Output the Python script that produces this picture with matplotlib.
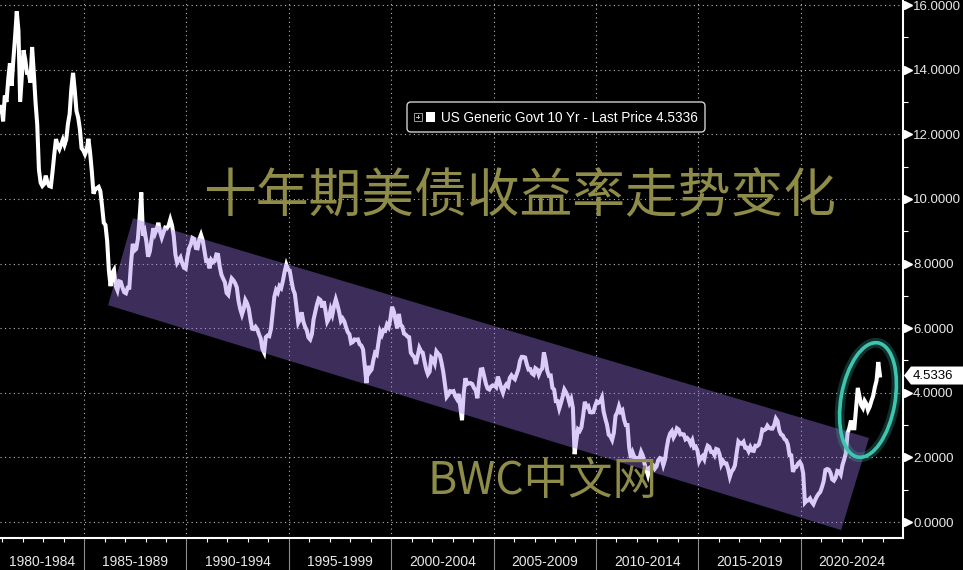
import numpy as np
import matplotlib
matplotlib.use("Agg")
import matplotlib.pyplot as plt
import matplotlib.transforms as mtransforms
from matplotlib.patches import Polygon, Ellipse, FancyBboxPatch, Rectangle

# ---------------- data (monthly 10Y yield) ----------------
start_year, start_month = 1980, 11
y1980_84 = [12.7, 12.9,
            12.4, 13.2, 13.0, 13.7, 14.2, 13.5, 14.3, 15.0, 15.8, 15.2, 13.0, 13.8,
            14.6, 14.3, 13.9, 13.9, 13.6, 14.7, 13.9, 13.0, 12.3, 10.9, 10.5, 10.4,
            10.46, 10.72, 10.51, 10.40, 10.38, 10.85, 11.38, 11.85, 11.65, 11.54, 11.69, 11.83,
            11.67, 11.84, 12.32, 12.63, 13.41, 13.9, 13.36, 12.72, 12.52, 12.16, 11.57, 11.50]
y1985_89 = [11.38, 11.51, 11.86, 11.43, 10.85, 10.16, 10.31, 10.33, 10.37, 10.24, 9.78, 9.26,
            9.19, 8.70, 7.78, 7.30, 7.71, 7.80, 7.30, 7.17, 7.45, 7.43, 7.25, 7.11,
            7.08, 7.25, 7.25, 8.02, 8.61, 8.40, 8.45, 8.76, 9.42, 10.2, 8.86, 8.99,
            8.67, 8.21, 8.37, 8.72, 9.09, 8.92, 9.06, 9.26, 8.98, 8.80, 8.96, 9.11,
            9.09, 9.17, 9.36, 9.18, 8.86, 8.28, 8.02, 8.11, 8.19, 8.01, 7.87, 7.84]
y1990_94 = [8.21, 8.47, 8.59, 8.79, 8.76, 8.48, 8.47, 8.75, 8.89, 8.72, 8.39, 8.08,
            8.09, 7.85, 8.11, 8.04, 8.07, 8.28, 8.27, 7.90, 7.65, 7.53, 7.42, 7.09,
            7.03, 7.34, 7.54, 7.48, 7.39, 7.26, 6.84, 6.59, 6.42, 6.59, 6.87, 6.77,
            6.60, 6.26, 5.98, 5.97, 6.04, 5.96, 5.81, 5.68, 5.36, 5.25, 5.72, 5.77,
            5.75, 5.97, 6.48, 6.97, 7.18, 7.10, 7.30, 7.24, 7.46, 7.74, 7.96, 7.81]
y1995_99 = [7.78, 7.47, 7.20, 7.06, 6.63, 6.17, 6.28, 6.49, 6.20, 6.04, 5.93, 5.71,
            5.65, 5.81, 6.27, 6.51, 6.74, 6.91, 6.87, 6.64, 6.83, 6.53, 6.20, 6.30,
            6.58, 6.42, 6.69, 6.89, 6.71, 6.49, 6.22, 6.30, 6.21, 6.03, 5.88, 5.81,
            5.54, 5.57, 5.65, 5.64, 5.65, 5.50, 5.46, 5.34, 4.81, 4.3, 4.83, 4.65,
            4.72, 5.00, 5.23, 5.18, 5.54, 5.90, 5.79, 5.94, 5.92, 6.11, 6.03, 6.28]
y2000_04 = [6.66, 6.52, 6.26, 5.99, 6.44, 6.10, 6.05, 5.83, 5.80, 5.74, 5.72, 5.24,
            5.16, 5.10, 4.89, 5.14, 5.39, 5.28, 5.24, 4.97, 4.73, 4.57, 4.65, 5.09,
            5.04, 4.91, 5.28, 5.21, 5.16, 4.93, 4.65, 4.26, 3.87, 3.94, 4.05, 4.03,
            4.05, 3.90, 3.81, 3.96, 3.57, 3.15, 3.98, 4.45, 4.27, 4.29, 4.30, 4.27,
            4.15, 4.08, 3.83, 4.35, 4.72, 4.73, 4.50, 4.28, 4.13, 4.10, 4.19, 4.23]
y2005_09 = [4.22, 4.17, 4.50, 4.34, 4.14, 4.00, 4.18, 4.26, 4.20, 4.46, 4.54, 4.47,
            4.42, 4.57, 4.72, 4.99, 5.11, 5.11, 5.09, 4.88, 4.72, 4.73, 4.60, 4.56,
            4.76, 4.72, 4.56, 4.69, 4.75, 5.25, 5.00, 4.67, 4.52, 4.53, 4.15, 4.10,
            3.74, 3.74, 3.51, 3.68, 3.88, 4.10, 4.01, 3.89, 3.69, 3.81, 3.53, 2.10,
            2.52, 2.87, 2.82, 2.93, 3.29, 3.72, 3.56, 3.59, 3.40, 3.39, 3.40, 3.59]
y2010_14 = [3.73, 3.69, 3.73, 3.85, 3.42, 3.20, 3.01, 2.70, 2.65, 2.54, 2.76, 3.29,
            3.39, 3.58, 3.41, 3.46, 3.17, 3.00, 3.00, 2.30, 1.98, 2.15, 2.01, 1.98,
            1.97, 1.97, 2.17, 2.05, 1.80, 1.62, 1.45, 1.68, 1.72, 1.75, 1.65, 1.72,
            1.91, 1.98, 1.96, 1.76, 1.93, 2.30, 2.58, 2.74, 2.81, 2.62, 2.72, 2.90,
            2.86, 2.71, 2.72, 2.71, 2.56, 2.60, 2.54, 2.42, 2.53, 2.30, 2.33, 2.21]
y2015_19 = [1.88, 1.98, 2.04, 1.94, 2.20, 2.36, 2.32, 2.17, 2.17, 2.07, 2.26, 2.24,
            2.09, 1.78, 1.89, 1.81, 1.81, 1.64, 1.40, 1.56, 1.63, 1.76, 2.14, 2.49,
            2.43, 2.42, 2.48, 2.30, 2.30, 2.19, 2.32, 2.21, 2.20, 2.36, 2.35, 2.40,
            2.58, 2.86, 2.84, 2.87, 2.98, 2.91, 2.89, 2.89, 3.00, 3.20, 3.12, 2.83,
            2.71, 2.68, 2.57, 2.53, 2.40, 2.07, 2.06, 1.55, 1.70, 1.71, 1.81, 1.86]
y2020_24 = [1.76, 1.50, 0.60, 0.66, 0.67, 0.73, 0.62, 0.55, 0.68, 0.79, 0.87, 0.93,
            1.08, 1.26, 1.61, 1.64, 1.62, 1.52, 1.32, 1.28, 1.37, 1.58, 1.56, 1.47,
            1.76, 1.93, 2.13, 2.75, 2.90, 3.14, 2.90, 2.90, 3.52, 4.15, 3.89, 3.62,
            3.53, 3.75, 3.66, 3.46, 3.57, 3.75, 3.90, 4.17, 4.38, 4.95, 4.5336]

period_labels = ["1980-1984", "1985-1989", "1990-1994", "1995-1999", "2000-2004",
                 "2005-2009", "2010-2014", "2015-2019", "2020-2024"]
period_starts = [1980, 1985, 1990, 1995, 2000, 2005, 2010, 2015, 2020]
y_ticks = [0, 2, 4, 6, 8, 10, 12, 14, 16]
last_price = 4.5336
legend_text = "US Generic Govt 10 Yr - Last Price 4.5336"
title_text = "十年期美债收益率走势变化"
watermark_text = "BWC中文网"
# trend channel corners (year, yield)
channel_years = [1987.39, 2023.34, 2021.98, 1986.17]
channel_vals = [9.40, 2.60, -0.25, 6.71]

# ---------------- figure ----------------
W, H = 963, 570
fig = plt.figure(figsize=(W / 100, H / 100), dpi=100, facecolor="black")
ax_left, ax_right, ax_bottom = 0, 903, 538
ax = fig.add_axes([ax_left / W, 1 - ax_bottom / H, (ax_right - ax_left) / W, ax_bottom / H])
ax.set_facecolor("black")

series = np.array(y1980_84 + y1985_89 + y1990_94 + y1995_99 + y2000_04 +
                  y2005_09 + y2010_14 + y2015_19 + y2020_24)
months = np.arange(len(series))
t = start_year + (start_month - 1 + months + 0.5) / 12.0

x0, x1 = 1980.89, 2025.0
ax.set_xlim(x0, x1)
ax.set_ylim(-0.495, 16.155)

# grid
grid_kw = dict(color="#b8b8b8", lw=0.8, ls=(0, (1, 3)), zorder=1)
for v in y_ticks:
    ax.axhline(v, **grid_kw)
for yr in period_starts[1:]:
    ax.axvline(yr, **grid_kw)

# line
ax.plot(t, series, color="white", lw=2.9, zorder=3, solid_joinstyle="miter")

# channel
ax.add_patch(Polygon(list(zip(channel_years, channel_vals)), closed=True,
                     facecolor=(0.62, 0.47, 0.93), alpha=0.38, edgecolor="none", zorder=4))

# spines
for s in ["top", "left"]:
    ax.spines[s].set_visible(False)
for s in ["right", "bottom"]:
    ax.spines[s].set_color("white")
    ax.spines[s].set_linewidth(1.5)

# right axis
ax.yaxis.tick_right()
ax.set_yticks(y_ticks)
ax.set_yticklabels([f"{v:.4f}" for v in y_ticks])
ax.set_yticks([v + 1 for v in y_ticks[:-1]], minor=True)
ax.tick_params(axis="y", which="major", length=0, pad=7.2, labelsize=9.5,
               labelcolor="#e8e8e8", labelfontfamily="Liberation Sans")
ax.tick_params(axis="y", which="minor", length=3.6, width=0.8, color="white", direction="out")
tri_trans = mtransforms.blended_transform_factory(ax.transAxes, ax.transData)
ax.plot([1 + 4.5 / 903] * len(y_ticks), y_ticks, ls="none", marker=">", ms=5.5,
        color="white", transform=tri_trans, clip_on=False, zorder=6)

# bottom axis
ax.set_xticks(period_starts[1:])
ax.set_xticklabels([])
ax.set_xticks(list(range(1981, 2025)), minor=True)
ax.tick_params(axis="x", which="major", length=23, width=0.8, color="#8c8c8c", direction="out")
ax.tick_params(axis="x", which="minor", length=2.9, width=0.8, color="white", direction="out")
lab_trans = mtransforms.blended_transform_factory(ax.transData, ax.transAxes)
for lab, st in zip(period_labels, period_starts):
    cx = (max(st, x0) + min(st + 5, x1)) / 2
    ax.text(cx, -24 / 538, lab, transform=lab_trans, ha="center", va="center",
            color="#e8e8e8", fontsize=10, family="Liberation Sans")

ident = mtransforms.IdentityTransform()


def px(x, y):
    return (x, H - y)


# title / watermark
olive = "#8e8c48"
fig.text(520 / W, 1 - 197 / H, title_text, ha="center", va="center", color=olive,
         fontsize=38, family=["Noto Sans CJK SC", "DejaVu Sans"], zorder=5)
fig.text(543 / W, 1 - 481 / H, watermark_text, ha="center", va="center", color=olive,
         fontsize=32, family=["Noto Sans CJK SC", "DejaVu Sans"], zorder=5)

# legend box
box = FancyBboxPatch(px(407, 132), 298, 30, boxstyle="round,pad=0,rounding_size=4",
                     facecolor="black", edgecolor="#d0d0d0", lw=1.0, transform=ident, zorder=7)
fig.add_artist(box)
fig.add_artist(Rectangle(px(414, 121), 8, 8, facecolor="black", edgecolor="#9a9a9a",
                         lw=0.7, transform=ident, zorder=8))
fig.add_artist(Rectangle(px(416, 117.5), 4, 1, facecolor="#bbbbbb", edgecolor="none",
                         transform=ident, zorder=9))
fig.add_artist(Rectangle(px(417.5, 119), 1, 4, facecolor="#bbbbbb", edgecolor="none",
                         transform=ident, zorder=9))
fig.add_artist(Rectangle(px(426, 122), 9, 10, facecolor="white", edgecolor="none",
                         transform=ident, zorder=8))
fig.text(441 / W, 1 - 118 / H, legend_text, ha="left", va="center", color="white",
         fontsize=9.8, family="Liberation Sans", zorder=9)

# last-price tag
yl = 522 - last_price * 32.31
tag = Polygon([px(904, yl), px(911, yl - 9), px(963, yl - 9), px(963, yl + 9), px(911, yl + 9)],
              closed=True, facecolor="white", edgecolor="none", transform=ident, zorder=8)
fig.add_artist(tag)
fig.text(913 / W, 1 - yl / H, f"{last_price:.4f}", ha="left", va="center", color="black",
         fontsize=9.5, family="Liberation Sans", zorder=9)

# highlight ellipse
teal = "#3fc4b0"
fig.add_artist(Ellipse(px(868, 400), width=116, height=54, angle=80, fill=False,
                       edgecolor=teal, lw=7, alpha=0.25, transform=ident, zorder=8))
fig.add_artist(Ellipse(px(868, 400), width=116, height=54, angle=80, fill=False,
                       edgecolor=teal, lw=2.6, transform=ident, zorder=9))

fig.savefig("out.png", dpi=100, facecolor="black")
